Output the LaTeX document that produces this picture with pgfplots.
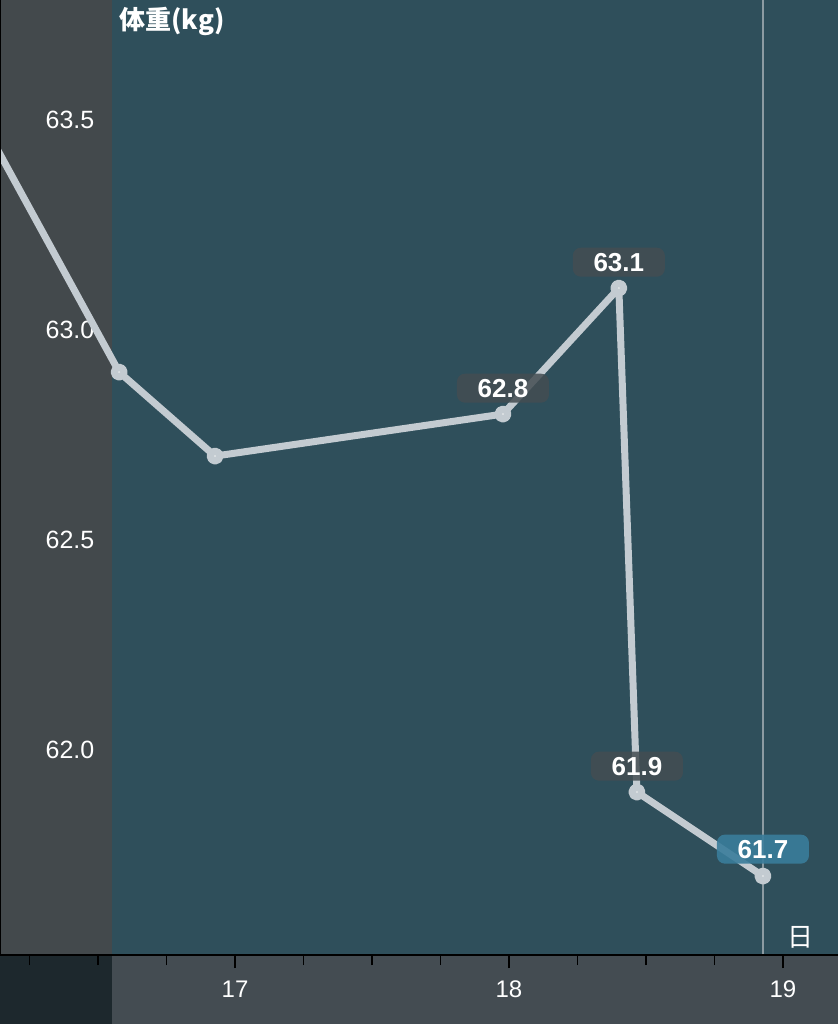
\documentclass[border=0pt]{standalone}
\usepackage{pgfplots}
\pgfplotsset{compat=1.18}
\usepackage{fontspec}
\setmainfont{Liberation Sans}
\newfontfamily\cjk{Noto Sans CJK JP}
\definecolor{plotbg}{HTML}{2F4F5B}
\definecolor{leftpanel}{HTML}{43494C}
\definecolor{stripgray}{HTML}{444C52}
\definecolor{cornerdark}{HTML}{1D282D}
\definecolor{linegray}{HTML}{C3CBD1}
\definecolor{markgray}{HTML}{DCE0E3}
\definecolor{boxgray}{HTML}{434D52}
\definecolor{boxblue}{HTML}{3A7D9B}
\definecolor{vline}{HTML}{8C9BA2}
\begin{document}
\begin{tikzpicture}
\useasboundingbox (0,-34.5pt) rectangle (419pt,477.5pt);
\fill[stripgray] (0,-34.5pt) rectangle (419pt,0);
\fill[cornerdark] (0,-34.5pt) rectangle (56pt,0);
\fill[plotbg] (0,0) rectangle (419pt,477.5pt);
\fill[leftpanel] (0,0) rectangle (56pt,477.5pt);
\begin{axis}[
  at={(0,0)}, anchor=south west,
  scale only axis, width=419pt, height=477.5pt,
  xmin=16.142, xmax=19.201, ymin=61.512, ymax=63.786,
  axis line style={draw=none},
  xtick={17,18,19},
  minor xtick={16.25,16.5,16.75,17.25,17.5,17.75,18.25,18.5,18.75},
  tick align=outside,
  major tick length=6.5pt, minor tick length=5pt,
  x tick style={black, line width=0.8pt},
  minor x tick style={black, line width=0.8pt},
  ytick={62,62.5,63,63.5},
  yticklabels={62.0,62.5,63.0,63.5},
  y tick style={draw=none},
  /pgf/number format/assume math mode=true,
  tick label style={text=white, font=\fontsize{12}{13}\selectfont},
  yticklabel style={anchor=center, font=\fontsize{12.5}{13}\selectfont, xshift=41.5pt},
  xticklabel style={anchor=center, yshift=-10.5pt},
  clip marker paths=true,
]
\draw[vline, line width=0.6pt] (axis cs:18.927,61.512) -- (axis cs:18.927,63.786);
\addplot[linegray, line width=3.5pt, line join=round, mark=*, mark size=2.5pt,
  mark options={fill=markgray, draw=none}]
  coordinates {(15.99,63.6) (16.577,62.9) (16.927,62.7) (17.978,62.8)
               (18.401,63.1) (18.467,61.9) (18.927,61.7)};
\addplot[draw=none, mark=none, nodes near coords, point meta=explicit symbolic,
  every node near coord/.style={fill=boxgray, fill opacity=0.85, text opacity=1,
    rounded corners=4pt, minimum width=46pt, minimum height=14.5pt, inner sep=0pt,
    text=white, font=\bfseries\fontsize{13}{14}\selectfont,
    anchor=south, yshift=5.5pt}]
  coordinates {(17.978,62.8)[62.8] (18.401,63.1)[63.1] (18.467,61.9)[61.9]};
\addplot[draw=none, mark=none, nodes near coords, point meta=explicit symbolic,
  every node near coord/.style={fill=boxblue, fill opacity=0.9, text opacity=1,
    rounded corners=4pt, minimum width=46pt, minimum height=14.5pt, inner sep=0pt,
    text=white, font=\bfseries\fontsize{13}{14}\selectfont,
    anchor=south, yshift=6pt}]
  coordinates {(18.927,61.7)[61.7]};
\draw[black, line width=1pt] (rel axis cs:0,0) -- (rel axis cs:1,0);
\draw[black, line width=0.6pt] (rel axis cs:0,0) -- (rel axis cs:0,1);
\node[text=white, font=\cjk\bfseries\fontsize{13}{14}\selectfont] at (rel axis cs:0.2053,0.977) {体重(kg)};
\node[text=white, font=\cjk\fontsize{13}{14}\selectfont] at (rel axis cs:0.9547,0.0189) {日};
\end{axis}
\end{tikzpicture}
\end{document}
